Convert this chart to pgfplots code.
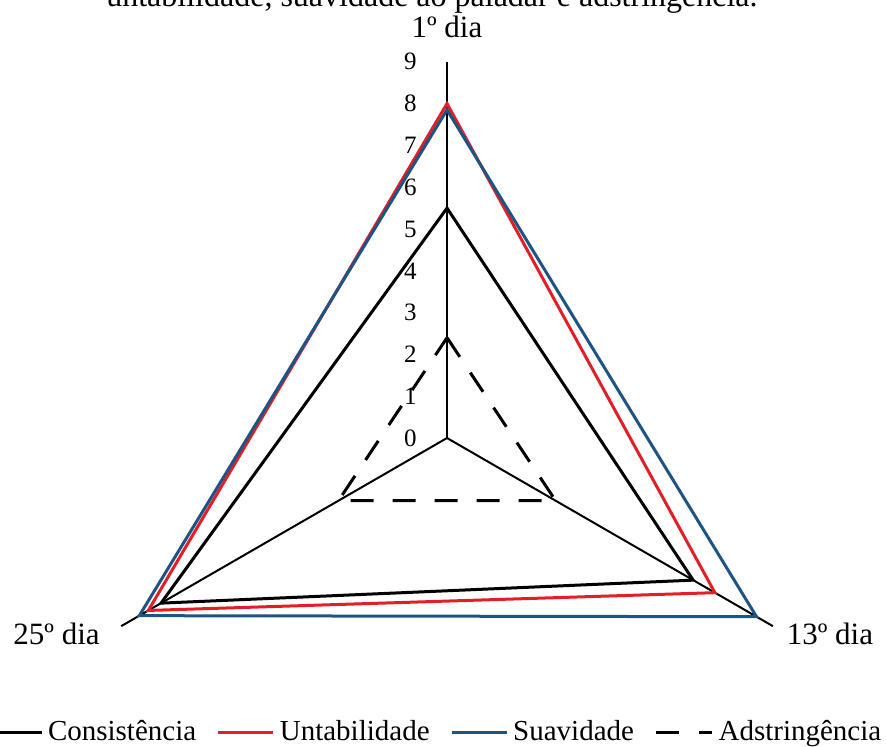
\documentclass[border=0pt]{standalone}
\usepackage{fontspec}
\setmainfont{Liberation Serif}
\usepackage{pgfplots}
\pgfplotsset{compat=1.18}
\definecolor{untred}{RGB}{226,30,38}
\definecolor{suavblue}{RGB}{30,84,132}
\begin{document}
\begin{tikzpicture}
\begin{axis}[
  scale only axis, width=443pt, height=373pt,
  xmin=-10.694, xmax=10.502, ymin=-7.368, ymax=10.478,
  hide axis, clip=false,
  legend columns=4,
  legend style={at={(-0.0169,0.003)}, anchor=south west, draw=none, fill=none,
    inner sep=0pt, outer sep=0pt,
    font=\fontsize{14.5pt}{16pt}\selectfont, nodes={inner sep=0pt},
    /tikz/every odd column/.append style={column sep=2.5pt},
    /tikz/every even column/.append style={column sep=10.3pt}},
  legend image code/.code={\draw[#1] (0pt,0pt) -- (27.5pt,0pt);},
]
% spokes of the three days
\addplot[black, line width=1pt, data cs=polar, forget plot] coordinates {(90,0) (90,9)};
\addplot[black, line width=1pt, data cs=polar, forget plot] coordinates {(-30,0) (-30,9)};
\addplot[black, line width=1pt, data cs=polar, forget plot] coordinates {(210,0) (210,9)};

% scores: 1º dia (90), 13º dia (-30), 25º dia (210)
\addplot[black, line width=1.5pt, data cs=polar] coordinates {(90,5.5) (-30,6.8) (210,7.9)} -- cycle;
\addlegendentry{Consistência}
\addplot[untred, line width=1.5pt, data cs=polar] coordinates {(90,8.0) (-30,7.4) (210,8.25)} -- cycle;
\addlegendentry{Untabilidade}
\addplot[suavblue, line width=1.5pt, data cs=polar] coordinates {(90,7.85) (-30,8.55) (210,8.5)} -- cycle;
\addlegendentry{Suavidade}
\addplot[black, line width=1.5pt, dash pattern=on 11.5pt off 9.5pt, data cs=polar,
  legend image code/.code={\draw[black, line width=1.5pt] (0pt,0pt) -- (15pt,0pt) (21.5pt,0pt) -- (28pt,0pt);}]
  coordinates {(90,2.4) (-30,3.0) (210,3.0)} -- cycle;
\addlegendentry{Adstringência}

% radial scale
\pgfplotsinvokeforeach{0,...,9}{
  \node[anchor=east, font=\fontsize{12.5pt}{14pt}\selectfont, inner sep=0pt] at (axis cs:-0.72,#1) {#1};
}

% day labels
\node[anchor=base, font=\fontsize{15.5pt}{18pt}\selectfont, inner sep=0pt] at (axis cs:0,9.59) {1º dia};
\node[anchor=base, font=\fontsize{15.5pt}{18pt}\selectfont, inner sep=0pt] at (axis cs:-9.34,-4.95) {25º dia};
\node[anchor=base, font=\fontsize{15.5pt}{18pt}\selectfont, inner sep=0pt] at (axis cs:9.16,-4.95) {13º dia};

% last line of the caption
\node[anchor=base west, font=\fontsize{16pt}{19pt}\selectfont, inner sep=0pt] at (axis cs:-8.16,10.33) {untabilidade, suavidade ao paladar e adstringência.};

\coordinate (BL) at (rel axis cs:0,0);
\coordinate (TR) at (rel axis cs:1,1);
\end{axis}
\pgfresetboundingbox
\path[use as bounding box] (BL) rectangle (TR);
\end{tikzpicture}
\end{document}
